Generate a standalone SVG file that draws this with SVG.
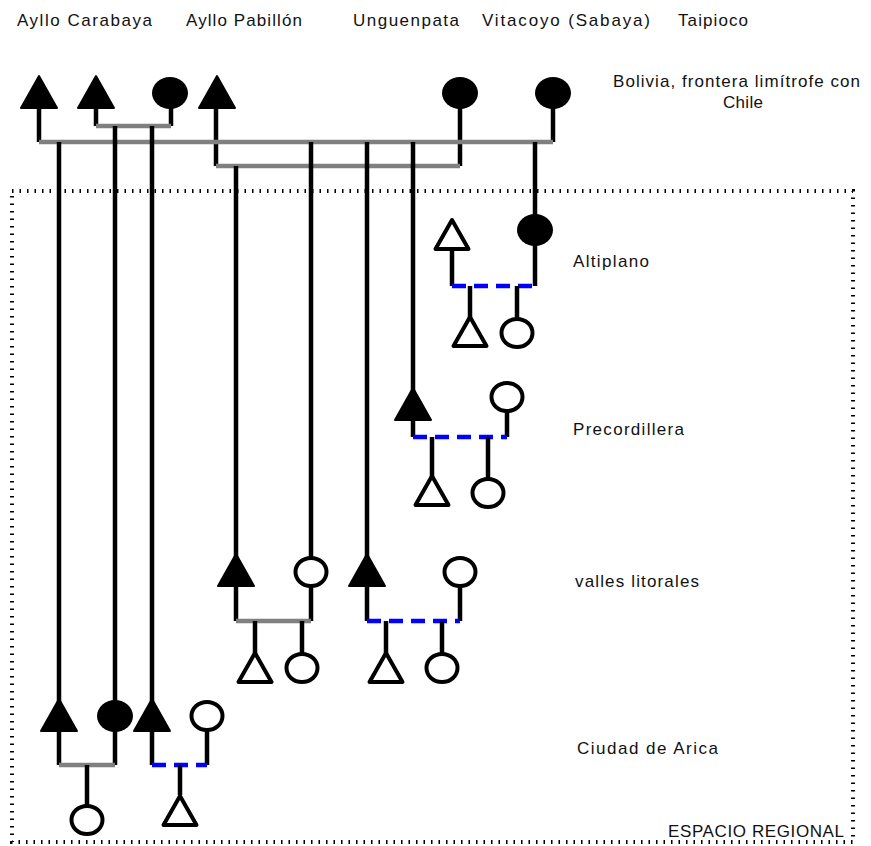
<svg xmlns="http://www.w3.org/2000/svg" xmlns:xlink="http://www.w3.org/1999/xlink" width="871" height="846" viewBox="0 0 871 846">
  <style>
    text { font-family: "Liberation Sans", Arial, sans-serif; font-size: 17px; fill: #111; }
    .stem { stroke: #000; stroke-width: 4.5; fill: none; }
    .union { stroke: #808080; stroke-width: 4.5; fill: none; }
    .broken { stroke: #0000ff; stroke-width: 4.5; stroke-dasharray: 14 8; fill: none; }
    .border { stroke: #000; stroke-width: 4; stroke-dasharray: 1.5 6; fill: none; }
    .male-f { fill: #000; stroke: #000; stroke-width: 2; stroke-linejoin: round; }
    .female-f { fill: #000; }
    .male-o, .female-o { fill: #fff; stroke: #000; stroke-width: 4; stroke-linejoin: round; }
  </style>
  <defs>
    <!-- symbols anchored at the point where the stem meets them -->
    <path id="triFilled" class="male-f" d="M0 1 L18 33 L-18 33 Z"/>
    <path id="triOpen" class="male-o" d="M0 2 L16.5 31 L-16.5 31 Z"/>
    <ellipse id="dotFilled" class="female-f" cx="0" cy="0" rx="18" ry="16"/>
    <ellipse id="dotOpen" class="female-o" cx="0" cy="0" rx="15.5" ry="14"/>
  </defs>

  <rect width="871" height="846" fill="#fff"/>

  <!-- regional space frame -->
  <rect id="espacio-regional" class="border" x="12" y="191" width="841" height="651"/>

  <!-- connectors -->
  <g id="connectors">
    <!-- Bolivia generation -->
    <line class="stem" x1="39" y1="107" x2="39" y2="142"/>
    <line class="stem" x1="96" y1="107" x2="96" y2="126"/>
    <line class="stem" x1="171" y1="107" x2="171" y2="126"/>
    <line class="stem" x1="216" y1="107" x2="216" y2="166"/>
    <line class="stem" x1="460" y1="107" x2="460" y2="166"/>
    <line class="stem" x1="553" y1="107" x2="553" y2="142"/>
    <line class="union" x1="96" y1="126" x2="171" y2="126"/>
    <line class="union" x1="39" y1="142" x2="553" y2="142"/>
    <line class="union" x1="216" y1="166" x2="460" y2="166"/>

    <!-- migrants descending -->
    <line class="stem" x1="59" y1="142" x2="59" y2="765"/>
    <line class="stem" x1="115" y1="126" x2="115" y2="765"/>
    <line class="stem" x1="152" y1="126" x2="152" y2="765"/>
    <line class="stem" x1="236" y1="166" x2="236" y2="621"/>
    <line class="stem" x1="311" y1="142" x2="311" y2="621"/>
    <line class="stem" x1="367" y1="142" x2="367" y2="621"/>
    <line class="stem" x1="413" y1="142" x2="413" y2="437"/>
    <line class="stem" x1="535" y1="142" x2="535" y2="286"/>

    <!-- Altiplano -->
    <line class="stem" x1="452" y1="250" x2="452" y2="286"/>
    <line class="broken" x1="452" y1="286" x2="535" y2="286"/>
    <line class="stem" x1="470" y1="286" x2="470" y2="318"/>
    <line class="stem" x1="517" y1="286" x2="517" y2="320"/>

    <!-- Precordillera -->
    <line class="stem" x1="507" y1="410" x2="507" y2="437"/>
    <line class="broken" x1="413" y1="437" x2="507" y2="437"/>
    <line class="stem" x1="432" y1="437" x2="432" y2="477"/>
    <line class="stem" x1="488" y1="437" x2="488" y2="480"/>

    <!-- valles litorales -->
    <line class="union" x1="236" y1="621" x2="311" y2="621"/>
    <line class="stem" x1="255" y1="621" x2="255" y2="654"/>
    <line class="stem" x1="302" y1="621" x2="302" y2="656"/>
    <line class="stem" x1="460" y1="585" x2="460" y2="621"/>
    <line class="broken" x1="367" y1="621" x2="460" y2="621"/>
    <line class="stem" x1="386" y1="621" x2="386" y2="654"/>
    <line class="stem" x1="442" y1="621" x2="442" y2="656"/>

    <!-- Ciudad de Arica -->
    <line class="union" x1="59" y1="765" x2="115" y2="765"/>
    <line class="stem" x1="87" y1="765" x2="87" y2="807"/>
    <line class="stem" x1="207" y1="729" x2="207" y2="765"/>
    <line class="broken" x1="152" y1="765" x2="207" y2="765"/>
    <line class="stem" x1="180" y1="765" x2="180" y2="795"/>
  </g>

  <!-- Bolivia generation -->
  <g id="carabaya-m1"><use href="#triFilled" x="39" y="75"/></g>
  <g id="carabaya-m2"><use href="#triFilled" x="96" y="75"/></g>
  <g id="carabaya-f1"><use href="#dotFilled" x="170" y="93"/></g>
  <g id="pabillon-m1"><use href="#triFilled" x="217" y="75"/></g>
  <g id="unguenpata-f1"><use href="#dotFilled" x="460" y="93"/></g>
  <g id="vitacoyo-f1"><use href="#dotFilled" x="553" y="93"/></g>

  <!-- Altiplano -->
  <g id="altiplano-m1"><use href="#triOpen" x="452" y="218"/></g>
  <g id="altiplano-f1"><use href="#dotFilled" x="535" y="230"/></g>
  <g id="altiplano-m2"><use href="#triOpen" x="470" y="315"/></g>
  <g id="altiplano-f2"><use href="#dotOpen" x="517" y="333"/></g>

  <!-- Precordillera -->
  <g id="precordillera-m1"><use href="#triFilled" x="413" y="387"/></g>
  <g id="precordillera-f1"><use href="#dotOpen" x="507" y="397"/></g>
  <g id="precordillera-m2"><use href="#triOpen" x="432" y="474"/></g>
  <g id="precordillera-f2"><use href="#dotOpen" x="488" y="493"/></g>

  <!-- valles litorales -->
  <g id="valles-m1"><use href="#triFilled" x="236" y="553"/></g>
  <g id="valles-f1"><use href="#dotOpen" x="311" y="572"/></g>
  <g id="valles-m2"><use href="#triOpen" x="255" y="651"/></g>
  <g id="valles-f2"><use href="#dotOpen" x="302" y="668"/></g>
  <g id="valles-m3"><use href="#triFilled" x="367" y="553"/></g>
  <g id="valles-f3"><use href="#dotOpen" x="460" y="572"/></g>
  <g id="valles-m4"><use href="#triOpen" x="386" y="651"/></g>
  <g id="valles-f4"><use href="#dotOpen" x="442" y="668"/></g>

  <!-- Ciudad de Arica -->
  <g id="arica-m1"><use href="#triFilled" x="59" y="698"/></g>
  <g id="arica-f1"><use href="#dotFilled" x="115" y="716"/></g>
  <g id="arica-m2"><use href="#triFilled" x="152" y="698"/></g>
  <g id="arica-f2"><use href="#dotOpen" x="207" y="716"/></g>
  <g id="arica-f3"><use href="#dotOpen" x="87" y="820"/></g>
  <g id="arica-m3"><use href="#triOpen" x="180" y="794"/></g>

  <!-- labels -->
  <g id="labels">
    <text x="17" y="26" textLength="135" lengthAdjust="spacing">Ayllo Carabaya</text>
    <text x="186" y="26" textLength="116" lengthAdjust="spacing">Ayllo Pabillón</text>
    <text x="353" y="26" textLength="106" lengthAdjust="spacing">Unguenpata</text>
    <text x="482" y="26" textLength="168" lengthAdjust="spacing">Vitacoyo (Sabaya)</text>
    <text x="678" y="26" textLength="70" lengthAdjust="spacing">Taipioco</text>
    <text x="613" y="87" textLength="247" lengthAdjust="spacing">Bolivia, frontera limítrofe con</text>
    <text x="723" y="108" textLength="40" lengthAdjust="spacing">Chile</text>
    <text x="573" y="267" textLength="76" lengthAdjust="spacing">Altiplano</text>
    <text x="573" y="435" textLength="111" lengthAdjust="spacing">Precordillera</text>
    <text x="575" y="587" textLength="124" lengthAdjust="spacing">valles litorales</text>
    <text x="577" y="754" textLength="141" lengthAdjust="spacing">Ciudad de Arica</text>
    <text x="668" y="837" font-size="15.5" textLength="176" lengthAdjust="spacing">ESPACIO REGIONAL</text>
  </g>
</svg>
